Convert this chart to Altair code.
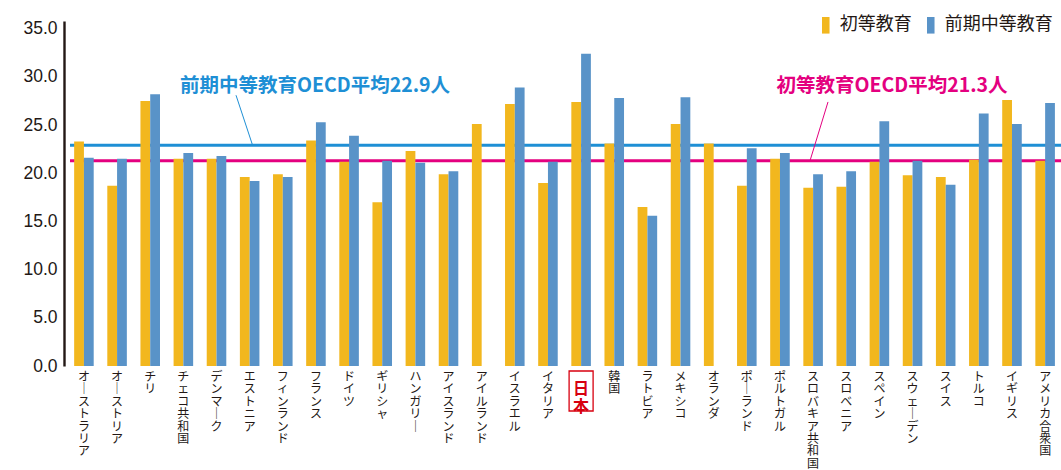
import altair as alt
import pandas as pd

countries = ["オーストラリア", "オーストリア", "チリ", "チェコ共和国", "デンマーク", "エストニア",
             "フィンランド", "フランス", "ドイツ", "ギリシャ", "ハンガリー", "アイスランド",
             "アイルランド", "イスラエル", "イタリア", "日本", "韓国", "ラトビア", "メキシコ",
             "オランダ", "ポーランド", "ポルトガル", "スロバキア共和国", "スロベニア", "スペイン",
             "スウェーデン", "スイス", "トルコ", "イギリス", "アメリカ合衆国"]
primary = [23.3, 18.7, 27.5, 21.5, 21.5, 19.6, 19.9, 23.4, 21.2, 17.0, 22.3, 19.9, 25.1, 27.2, 19.0,
           27.4, 23.1, 16.5, 25.1, 23.1, 18.7, 21.5, 18.5, 18.6, 21.2, 19.8, 19.6, 21.4, 27.6, 21.3]
lower_secondary = [21.6, 21.5, 28.2, 22.1, 21.8, 19.2, 19.6, 25.3, 23.9, 21.3, 21.1, 20.2, None, 28.9, 21.2,
                   32.4, 27.8, 15.6, 27.9, None, 22.6, 22.1, 19.9, 20.2, 25.4, 21.3, 18.8, 26.2, 25.1, 27.3]
series_names = ["初等教育", "前期中等教育"]
series_colors = ["#F2B71E", "#5993C8"]
y_ticks = [0, 5, 10, 15, 20, 25, 30, 35]
avg_values = [21.3, 22.9]
avg_labels = ["初等教育OECD平均21.3人", "前期中等教育OECD平均22.9人"]
avg_colors = ["#E4007F", "#1E8FD5"]
highlight = ["日本"]

rows = []
for c, p, s in zip(countries, primary, lower_secondary):
    if p is not None:
        rows.append({"国": c, "区分": series_names[0], "値": p})
    if s is not None:
        rows.append({"国": c, "区分": series_names[1], "値": s})
df = pd.DataFrame(rows)

# vertical (tategaki) labels: one character per line, long vowel mark turned upright
label_df = pd.DataFrame({
    "国": [c for c in countries if c not in highlight],
    "縦": [list(c.replace("ー", "｜")) for c in countries if c not in highlight],
})

W, H = 997, 345
INK = "#231815"
x_scale = alt.Scale(domain=countries, paddingInner=0.41, paddingOuter=0.245, align=0.625)
y_scale = alt.Scale(domain=[0, 35.8], nice=False, zero=True)
y_axis = alt.Axis(values=y_ticks, format=".1f", ticks=False, grid=False,
                  labelFont="Liberation Sans", labelFontSize=17.5, labelColor=INK,
                  labelPadding=7, domainColor=INK, domainWidth=2.4)

bars = alt.Chart(df).mark_bar().encode(
    x=alt.X("国:N", sort=countries, scale=x_scale, title=None,
            axis=alt.Axis(labels=False, ticks=False, grid=False, domainColor=INK, domainWidth=2.6)),
    xOffset=alt.XOffset("区分:N", sort=series_names, scale=alt.Scale(domain=series_names, paddingInner=0, paddingOuter=0)),
    y=alt.Y("値:Q", scale=y_scale, title=None, axis=y_axis),
    color=alt.Color("区分:N", scale=alt.Scale(domain=series_names, range=series_colors),
                    legend=alt.Legend(title=None, orient="none", direction="horizontal", columns=2,
                                      legendX=752.75, legendY=-4.7, padding=0,
                                      symbolType="M-0.42,-0.92H0.42V0.92H-0.42Z", symbolSize=324,
                                      symbolStrokeWidth=0, symbolOpacity=1,
                                      labelFont="Noto Sans CJK JP", labelFontSize=18, labelColor=INK,
                                      labelOffset=5, columnPadding=10)),
)

x_labels = alt.Chart(label_df).mark_text(font="Noto Sans CJK JP", fontSize=12, lineHeight=12.4,
                                         color=INK, align="center", baseline="top").encode(
    x=alt.X("国:N", sort=countries, scale=x_scale, axis=None),
    y=alt.value(H + 6),
    text="縦:N",
)

def avg_rule(i):
    d = pd.DataFrame({"v": [avg_values[i]]})
    return alt.Chart(d).mark_rule(color=avg_colors[i], strokeWidth=3).encode(
        x=alt.value(6), x2=alt.value(W), y=alt.Y("v:Q", scale=y_scale, title=None, axis=y_axis))

def avg_text(i, xpix):
    d = pd.DataFrame({"t": [avg_labels[i]], "v": [29.1]})
    return alt.Chart(d).mark_text(font="Noto Sans CJK JP", fontSize=19.5, fontWeight="bold",
                                  color=avg_colors[i], align="center", baseline="middle").encode(
        x=alt.value(xpix), y=alt.Y("v:Q", scale=y_scale, title=None, axis=y_axis), text="t:N")

def leader(i, x1, x2, ytop):
    d = pd.DataFrame({"a": [ytop], "b": [avg_values[i]]})
    return alt.Chart(d).mark_rule(color=avg_colors[i], strokeWidth=1).encode(
        x=alt.value(x1), x2=alt.value(x2),
        y=alt.Y("a:Q", scale=y_scale, title=None, axis=y_axis), y2="b:Q")

hl = pd.DataFrame({"国": highlight, "縦": [list(h) for h in highlight]})
box = alt.Chart(hl).mark_bar(width=24, fillOpacity=0, stroke="#D7000F", strokeWidth=1.3).encode(
    x=alt.X("国:N", sort=countries, scale=x_scale, axis=None),
    y=alt.value(350), y2=alt.value(390))
hl_text = alt.Chart(hl).mark_text(font="Noto Sans CJK JP", fontSize=16,
                                  fontWeight="bold", color="#D7000F", lineHeight=17.5,
                                  align="center", baseline="middle").encode(
    x=alt.X("国:N", sort=countries, scale=x_scale, axis=None),
    y=alt.value(368),
    text="縦:N")

chart = alt.layer(
    avg_rule(1), avg_rule(0),
    bars,
    leader(1, 172, 188.6, 28.1), leader(0, 764, 746, 27.4),
    avg_text(1, 251), avg_text(0, 828),
    x_labels, box, hl_text,
).properties(
    width=W, height=H,
    background="white",
    autosize=alt.AutoSizeParams(type="none"),
    padding={"left": 64, "top": 21, "right": 0, "bottom": 104},
).configure_view(stroke="transparent", strokeWidth=0).configure_axis(grid=False)

chart.save("out.html", embed_options={"renderer": "svg", "actions": False})
